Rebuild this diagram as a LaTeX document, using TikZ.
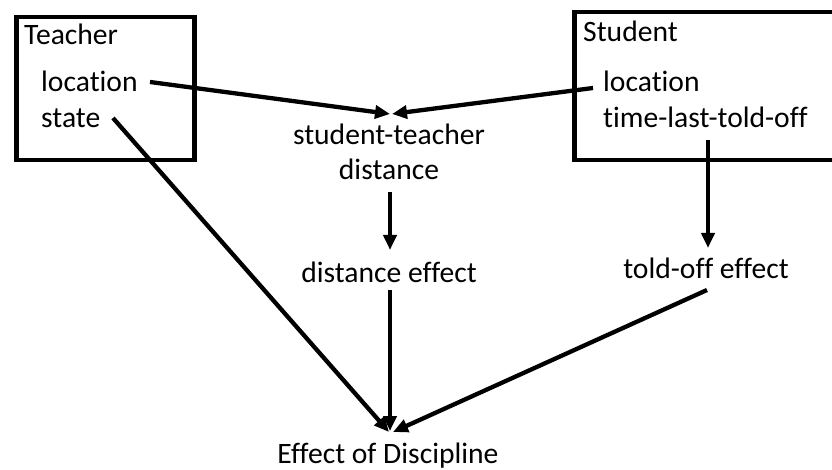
\documentclass[tikz,border=0pt]{standalone}
\usepackage{fontspec}
\setmainfont{Carlito}[Ligatures={NoCommon}]
\usetikzlibrary{arrows.meta}
\begin{document}
\begin{tikzpicture}[x=1pt,y=-1pt,
  lbl/.style={inner sep=0pt,font=\fontsize{29.6}{35}\selectfont},
  boxst/.style={draw,line width=4.5pt,inner sep=0pt,anchor=north west},
  arr/.style={line width=4.3pt,-{Triangle[length=15pt,width=13pt]}}]
\useasboundingbox (0,0) rectangle (832,470);
\clip (0,0) rectangle (832,470);
% boxes
\node[boxst,minimum width=178pt,minimum height=143pt] (tbox) at (14,15) {};
\node[boxst,minimum width=280pt,minimum height=148pt] (sbox) at (572,10) {};
% teacher
\node[lbl,anchor=base west] (tT) at (24,45) {Teacher};
\node[lbl,anchor=base west] (tloc) at (41,92) {location};
\node[lbl,anchor=base west] (tstate) at (41,128) {state};
% student
\node[lbl,anchor=base west] (sS) at (583,42) {Student};
\node[lbl,anchor=base west] (sloc) at (603,92) {location};
\node[lbl,anchor=base west] (stime) at (603,128) {time-last-told-off};
% middle
\node[lbl,anchor=base] (std1) at (389,145) {student-teacher};
\node[lbl,anchor=base] (std2) at (389,180) {distance};
\node[lbl,anchor=base] (de) at (389,282) {distance effect};
\node[lbl,anchor=base] (toe) at (706,278) {told-off effect};
\node[lbl,anchor=base] (ed) at (388,463) {Effect of Discipline};
% connector ends
\coordinate (a1s) at (150,82);
\coordinate (a1e) at (390,114);
\coordinate (a2s) at (593,88);
\coordinate (a2e) at (392,114);
\coordinate (a3s) at (113,118);
\coordinate (a3e) at (389,432);
\coordinate (a4s) at (390,192);
\coordinate (a4e) at (390,250);
\coordinate (a5s) at (390,290);
\coordinate (a5e) at (390,431);
\coordinate (a6s) at (708,140);
\coordinate (a6e) at (708,248);
\coordinate (a7s) at (707,290);
\coordinate (a7e) at (393,432);
\draw[arr] (a1s) -- (a1e);
\draw[arr] (a2s) -- (a2e);
\draw[arr] (a3s) -- (a3e);
\draw[arr] (a4s) -- (a4e);
\draw[arr] (a5s) -- (a5e);
\draw[arr] (a6s) -- (a6e);
\draw[arr] (a7s) -- (a7e);
\end{tikzpicture}
\end{document}
